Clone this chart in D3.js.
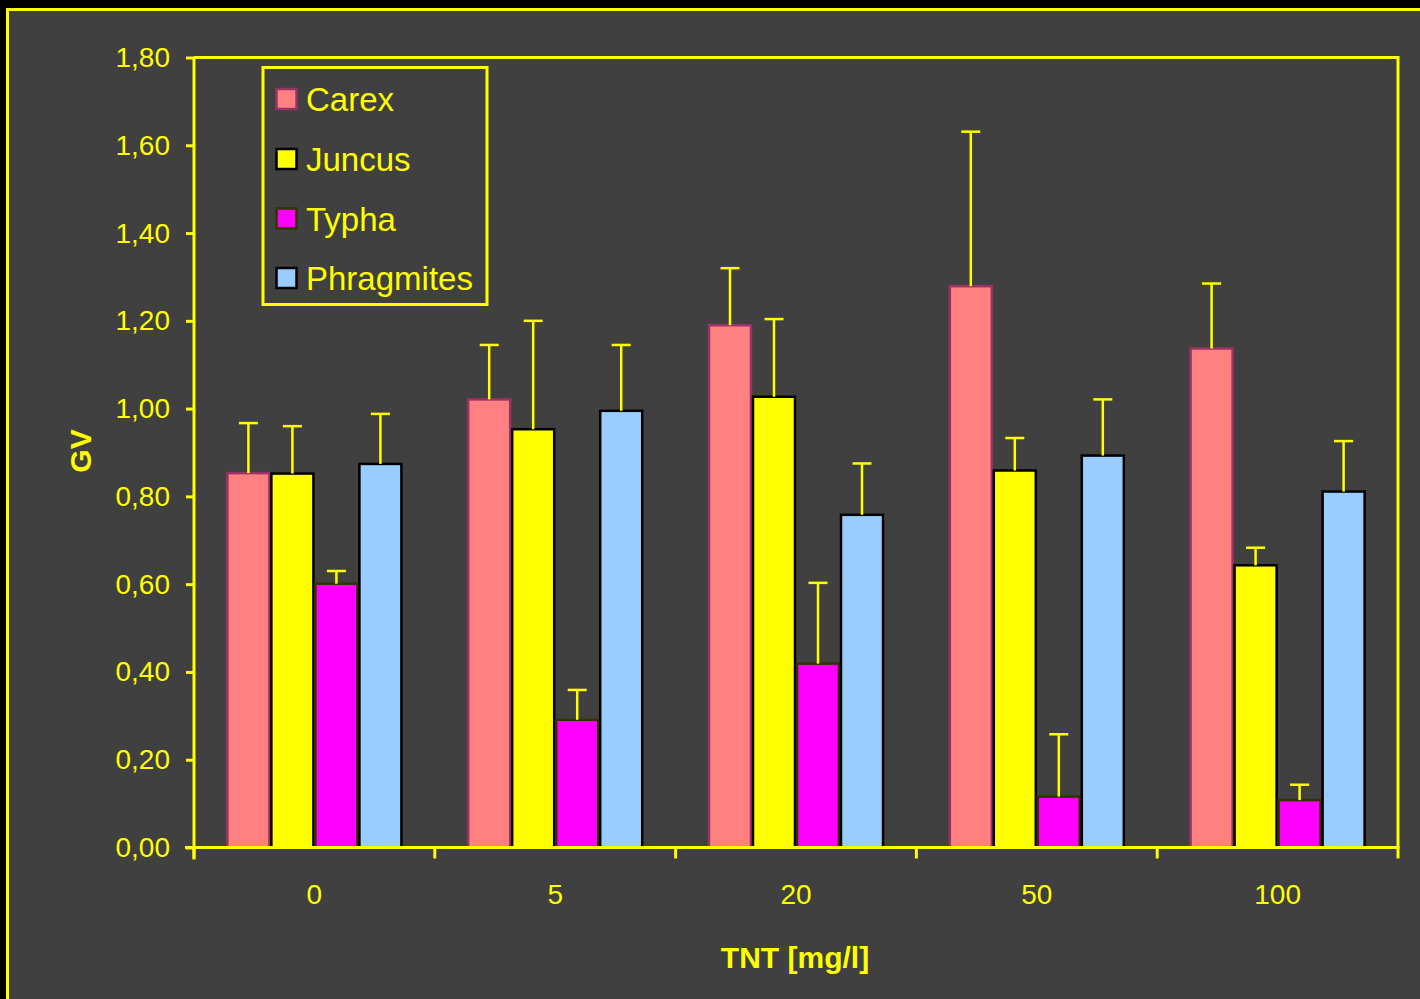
<!DOCTYPE html>
<html>
<head>
<meta charset="utf-8">
<script src="https://cdn.jsdelivr.net/npm/d3@7"></script>
<style>
  html, body { margin: 0; padding: 0; background: #000; }
  svg { display: block; }
  text { font-family: "Liberation Sans", Arial, sans-serif; fill: #FFFF00; }
</style>
</head>
<body>
<svg id="chart" width="1420" height="999"></svg>
<script>
// ---- data ----
const categories = ["0", "5", "20", "50", "100"];
const seriesNames = ["Carex", "Juncus", "Typha", "Phragmites"];
const carex      = [0.853, 1.021, 1.190, 1.279, 1.137];
const juncus     = [0.852, 0.953, 1.027, 0.859, 0.643];
const typha      = [0.601, 0.291, 0.419, 0.116, 0.108];
const phragmites = [0.874, 0.995, 0.758, 0.893, 0.811];
const carexErr      = [0.114, 0.124, 0.130, 0.352, 0.148];
const juncusErr     = [0.108, 0.247, 0.177, 0.074, 0.040];
const typhaErr      = [0.029, 0.068, 0.184, 0.142, 0.035];
const phragmitesErr = [0.114, 0.150, 0.117, 0.128, 0.115];
const yTicks = [0, 0.2, 0.4, 0.6, 0.8, 1.0, 1.2, 1.4, 1.6, 1.8];
const xTitle = "TNT [mg/l]";
const yTitle = "GV";

const seriesValues = [carex, juncus, typha, phragmites];
const seriesErrors = [carexErr, juncusErr, typhaErr, phragmitesErr];
const fills   = ["#FF8080", "#FFFF00", "#FF00FF", "#99CCFF"];
const strokes = ["#993366", "#000000", "#333300", "#000000"];

const svg = d3.select("#chart");
const yellow = "#FFFF00";

// frame
svg.append("rect").attr("x", 0).attr("y", 0).attr("width", 1420).attr("height", 999).attr("fill", "#000");
svg.append("rect").attr("x", 7.5).attr("y", 9.5).attr("width", 1430).attr("height", 1010)
  .attr("fill", "#404040").attr("stroke", yellow).attr("stroke-width", 3);

const L = 194, R = 1398, T = 57.5, B = 847.5;
const x0 = d3.scaleBand().domain(categories).range([L, R]).paddingInner(0).paddingOuter(0);
const x1 = d3.scaleBand().domain(seriesNames).range([0, x0.bandwidth()]).paddingInner(0).paddingOuter(0.736);
const y = d3.scaleLinear().domain([0, 1.8]).range([B, T]);

// bars
const rows = [];
seriesNames.forEach((s, si) => {
  categories.forEach((c, ci) => {
    rows.push({ s, si, c, v: seriesValues[si][ci], e: seriesErrors[si][ci] });
  });
});

const g = svg.append("g");
g.selectAll("rect.bar").data(rows).enter().append("rect")
  .attr("class", "bar")
  .attr("x", d => x0(d.c) + x1(d.s) + 1)
  .attr("y", d => y(d.v))
  .attr("width", x1.bandwidth() - 2)
  .attr("height", d => y(0) - y(d.v))
  .attr("fill", d => fills[d.si])
  .attr("stroke", d => strokes[d.si])
  .attr("stroke-width", 2.5);

// error bars
const eg = svg.append("g").attr("stroke", yellow).attr("stroke-width", 2.5);
rows.forEach(d => {
  const cx = x0(d.c) + x1(d.s) + x1.bandwidth() / 2;
  eg.append("line").attr("x1", cx).attr("x2", cx).attr("y1", y(d.v)).attr("y2", y(d.v + d.e));
  eg.append("line").attr("x1", cx - 9.5).attr("x2", cx + 9.5).attr("y1", y(d.v + d.e)).attr("y2", y(d.v + d.e));
});

// plot border (top, right)
svg.append("path")
  .attr("d", `M${L},${T}H${R}V${B}`)
  .attr("fill", "none").attr("stroke", yellow).attr("stroke-width", 3);

// y axis
const yAxis = d3.axisLeft(y).tickValues(yTicks).tickSize(8).tickPadding(16)
  .tickFormat(v => d3.format(".2f")(v).replace(".", ","));
const ya = svg.append("g").attr("transform", `translate(${L},0)`).call(yAxis);
ya.select(".domain").attr("stroke", yellow).attr("stroke-width", 3).attr("d", `M0,${B + 12}V${T}`);
ya.selectAll(".tick line").attr("stroke", yellow).attr("stroke-width", 3);
ya.selectAll(".tick text").attr("fill", yellow).attr("font-size", 28)
  .style("font-family", "'Liberation Sans', Arial, sans-serif");

// x axis
const xa = svg.append("g").attr("transform", `translate(0,${B})`);
xa.append("line").attr("x1", L - 9).attr("x2", R + 1.5).attr("y1", 0).attr("y2", 0)
  .attr("stroke", yellow).attr("stroke-width", 3);
d3.range(categories.length + 1).forEach(i => {
  const tx = L + i * x0.step();
  xa.append("line").attr("x1", tx).attr("x2", tx).attr("y1", 0).attr("y2", 11)
    .attr("stroke", yellow).attr("stroke-width", 3);
});
xa.selectAll("text.xl").data(categories).enter().append("text")
  .attr("class", "xl")
  .attr("x", d => x0(d) + x0.bandwidth() / 2)
  .attr("y", 56)
  .attr("text-anchor", "middle")
  .attr("font-size", 28)
  .text(d => d);

// axis titles
svg.append("text").attr("x", 795).attr("y", 968).attr("text-anchor", "middle")
  .attr("font-size", 30).attr("font-weight", "bold").text(xTitle);
svg.append("text").attr("transform", "translate(91,451) rotate(-90)").attr("text-anchor", "middle")
  .attr("font-size", 30).attr("font-weight", "bold").text(yTitle);

// legend
const lg = svg.append("g");
lg.append("rect").attr("x", 263).attr("y", 67.5).attr("width", 224).attr("height", 237)
  .attr("fill", "#404040").attr("stroke", yellow).attr("stroke-width", 3);
const rowY = [99, 159, 218.5, 278];
seriesNames.forEach((s, i) => {
  lg.append("rect").attr("x", 276.5).attr("y", rowY[i] - 10).attr("width", 20).attr("height", 20)
    .attr("fill", fills[i]).attr("stroke", strokes[i]).attr("stroke-width", 2.5);
  lg.append("text").attr("x", 306).attr("y", rowY[i] + 12).attr("font-size", 33).text(s);
});
</script>
</body>
</html>
